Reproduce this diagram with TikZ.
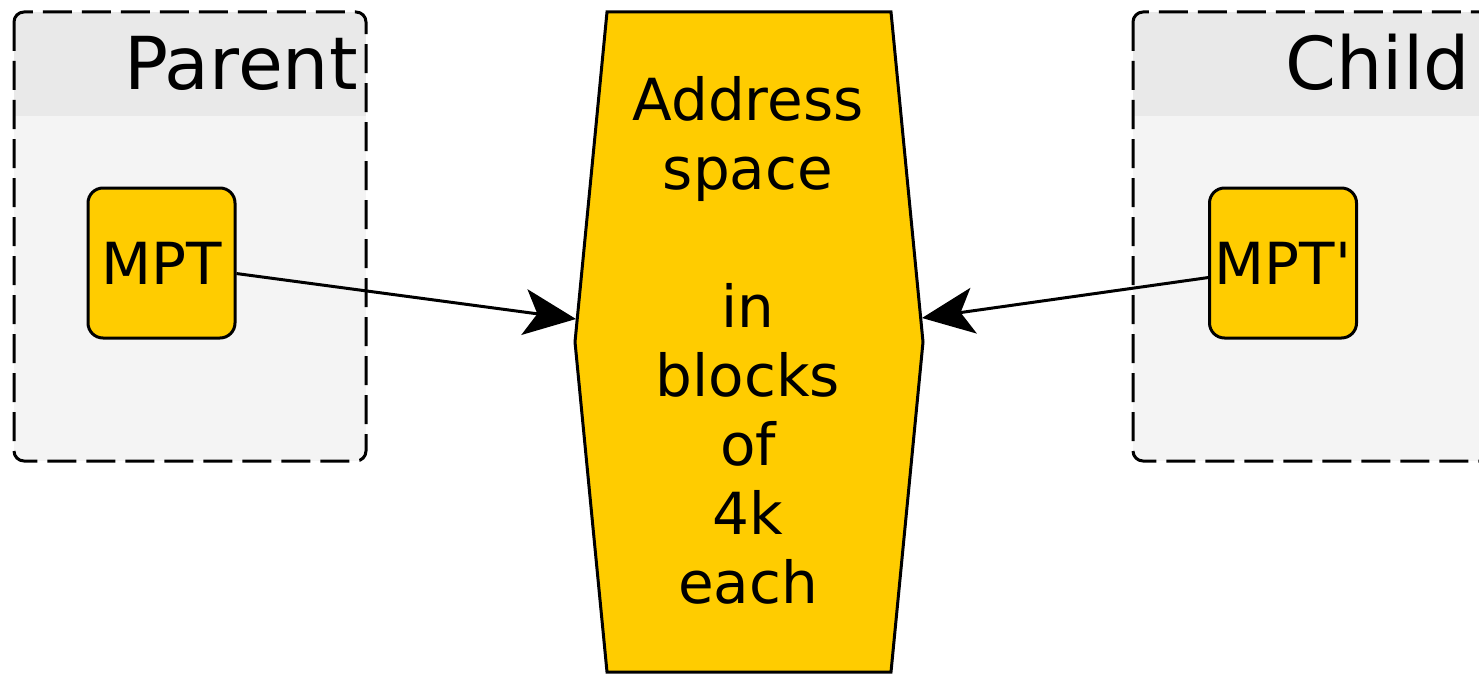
\documentclass[tikz,border=0pt]{standalone}
\usepackage{fontspec}
\setmainfont{DejaVu Sans}
\usetikzlibrary{arrows.meta}
\definecolor{ylw}{HTML}{FFCC00}
\definecolor{headc}{HTML}{E9E9E9}
\definecolor{bodyc}{HTML}{F4F4F4}
\tikzset{
  cont/.style={draw=black, line width=3pt, dash pattern=on 29pt off 10pt, rounded corners=10pt},
  title/.style={font=\fontsize{73}{80}\selectfont, inner sep=0pt, anchor=base east},
  mptbox/.style={draw=black, fill=ylw, line width=3pt, rounded corners=15pt,
    minimum width=147pt, minimum height=150pt, inner sep=0pt, font=\fontsize{58}{69}\selectfont},
  hexshape/.style={draw=black, fill=ylw, line width=3pt, line join=miter},
  hextext/.style={align=center, inner sep=0pt, font=\fontsize{58}{69}\selectfont, anchor=north},
  conn/.style={draw=black, line width=3pt, -{Stealth[length=52pt, width=46pt, inset=13pt]}}
}
\begin{document}
\begin{tikzpicture}[x=1pt,y=-1pt]
\useasboundingbox (0,0) rectangle (1479,674);
\clip (0,0) rectangle (1479,674);
% Parent container
\begin{scope}
  \clip[rounded corners=10pt] (14,12) rectangle (366,461);
  \fill[bodyc] (14,12) rectangle (366,461);
  \fill[headc] (14,12) rectangle (366,116);
\end{scope}
\draw[cont] (14,12) rectangle (366,461);
\node[title] (ptitle) at (358,90) {Parent};
% Child container
\begin{scope}
  \clip[rounded corners=10pt] (1133,12) rectangle (1620,461);
  \fill[bodyc] (1133,12) rectangle (1620,461);
  \fill[headc] (1133,12) rectangle (1620,116);
\end{scope}
\draw[cont] (1133,12) rectangle (1620,461);
\node[title] (ctitle) at (1470,90) {Child};
% Hexagon
\draw[hexshape] (607,12) -- (891,12) -- (923,342) -- (891,672) -- (607,672) -- (575,342) -- cycle;
\node[hextext] (hex) at (748,76) {Address\\space\\\mbox{}\\in\\blocks\\of\\4k\\each};
\coordinate (hexL) at (576,319);
\coordinate (hexR) at (922,318);
% MPT boxes
\node[mptbox] (mpt) at (161.5,263) {MPT};
\node[mptbox] (mptc) at (1283,263) {MPT\textquotesingle};
% connectors
\draw[conn] (mpt.-8) -- (hexL);
\draw[conn] (mptc.191) -- (hexR);
\end{tikzpicture}
\end{document}
